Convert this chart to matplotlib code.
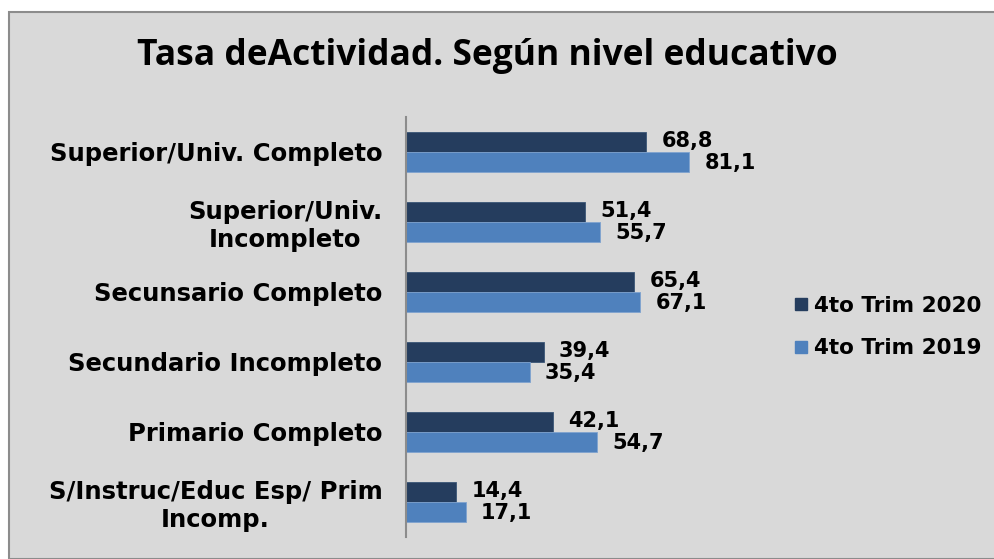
import matplotlib
matplotlib.use("Agg")
import matplotlib.pyplot as plt
from matplotlib import font_manager
from matplotlib.patches import Rectangle
import numpy as np

categories = ["Superior/Univ. Completo", "Superior/Univ.\nIncompleto", "Secunsario Completo",
              "Secundario Incompleto", "Primario Completo", "S/Instruc/Educ Esp/ Prim\nIncomp."]
trim_2020 = [68.8, 51.4, 65.4, 39.4, 42.1, 14.4]
trim_2019 = [81.1, 55.7, 67.1, 35.4, 54.7, 17.1]
series_names = ["4to Trim 2020", "4to Trim 2019"]

DARK = "#253d5e"
LIGHT = "#4f81bd"
BG = "#d9d9d9"
W, H = 995, 559


def pick_font(names):
    for n in names:
        try:
            font_manager.findfont(font_manager.FontProperties(family=n, weight="bold"),
                                  fallback_to_default=False)
            return n
        except ValueError:
            continue
    return "DejaVu Sans"


title_family = pick_font(["Liberation Sans Narrow", "Open Sans"])
title_size = 27 if title_family == "Liberation Sans Narrow" else 25.5

fig = plt.figure(figsize=(W / 100, H / 100), dpi=100)
fig.patch.set_facecolor("white")
# chart panel with gray border (only top/left edge visible)
fig.patches.append(Rectangle((9 / W, 0), 1.0, 1 - 12 / H, transform=fig.transFigure,
                             facecolor=BG, edgecolor="#8c8c8c", linewidth=1.5, zorder=-10))

ax = fig.add_axes([406 / W, 1 - 537 / H, (755 - 406) / W, (537 - 117) / H])
ax.set_facecolor("none")
y = np.arange(len(categories))
h = 0.286
ax.barh(y - h / 2, trim_2020, height=h, color=DARK, edgecolor="#3b5677", linewidth=0.6,
        label=series_names[0])
ax.barh(y + h / 2, trim_2019, height=h, color=LIGHT, edgecolor="#7fa3cf", linewidth=0.6,
        label=series_names[1])
ax.set_ylim(len(categories) - 0.5, -0.5)
ax.set_xlim(0, 100)

val_font = dict(family="DejaVu Sans", weight="bold", size=15)
for yi, v in zip(y, trim_2020):
    ax.annotate(f"{v:.1f}".replace(".", ","), (v, yi - h / 2), xytext=(11, 1),
                textcoords="offset points", ha="left", va="center", **val_font)
for yi, v in zip(y, trim_2019):
    ax.annotate(f"{v:.1f}".replace(".", ","), (v, yi + h / 2), xytext=(11, -1),
                textcoords="offset points", ha="left", va="center", **val_font)

ax.set_yticks(y)
ax.set_yticklabels(categories, multialignment="center", family="DejaVu Sans",
                   weight="bold", size=17.5)
ax.tick_params(axis="y", length=0, pad=17)
ax.set_xticks([])
for s in ["top", "right", "bottom"]:
    ax.spines[s].set_visible(False)
ax.spines["left"].set_color("#8c8c8c")
ax.spines["left"].set_linewidth(1.5)

handles = [plt.Line2D([], [], marker="s", linestyle="none", color=DARK, markersize=8),
           plt.Line2D([], [], marker="s", linestyle="none", color=LIGHT, markersize=8)]
fig.legend(handles=handles, labels=series_names, loc="center left",
           bbox_to_anchor=(775 / W, 1 - 327 / H), frameon=False, handlelength=0.6,
           handletextpad=0.3, labelspacing=1.05,
           prop=dict(family="DejaVu Sans", weight="bold", size=15.5))

fig.text(487 / W, 1 - 56 / H, "Tasa deActividad. Según nivel educativo", ha="center",
         va="center", fontsize=title_size, fontweight="bold", family=title_family)

fig.savefig("out.png", dpi=100)
